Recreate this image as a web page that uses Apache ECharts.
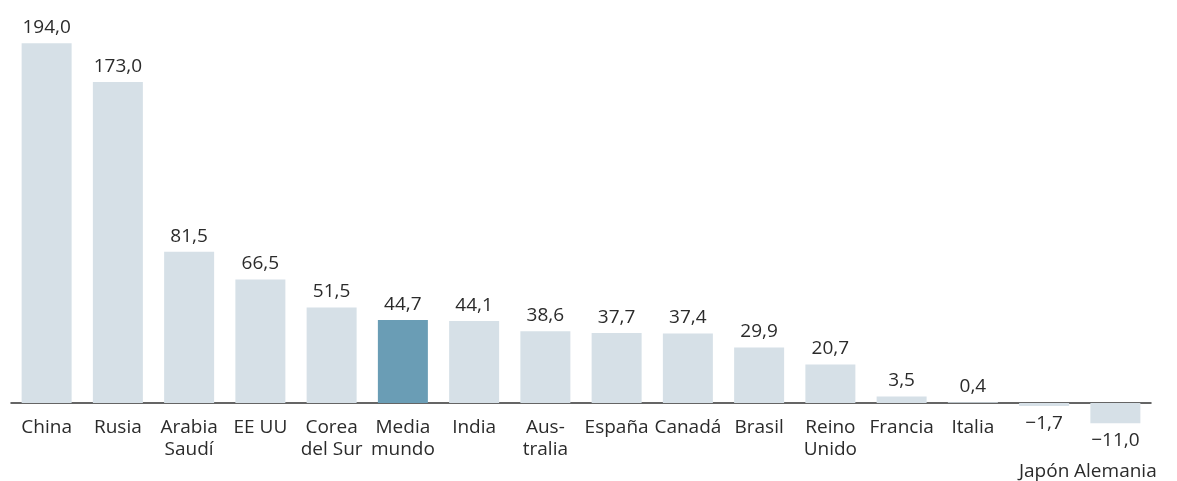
<!DOCTYPE html>
<html><head><meta charset="utf-8">
<script src="https://cdn.jsdelivr.net/npm/echarts@6/dist/echarts.min.js"></script>
<style>html,body{margin:0;padding:0;background:#fff}#c{width:1177px;height:481px}</style>
</head><body><div id="c"></div>
<script>
const categories = ["China","Rusia","Arabia\nSaudí","EE UU","Corea\ndel Sur","Media\nmundo","India","Aus-\ntralia","España","Canadá","Brasil","Reino\nUnido","Francia","Italia","\n\nJapón","\n\nAlemania"];
const values = [194.0,173.0,81.5,66.5,51.5,44.7,44.1,38.6,37.7,37.4,29.9,20.7,3.5,0.4,-1.7,-11.0];
const highlightIndex = 5;

const fmt = v => (v < 0 ? '\u2212' : '') + Math.abs(v).toFixed(1).replace('.', ',');
const chart = echarts.init(document.getElementById('c'));
chart.setOption({
  animation: false,
  grid: {left: 11, right: 26, top: 32, bottom: 41, containLabel: false, outerBoundsMode: 'none'},
  xAxis: {
    type: 'category', data: categories, position: 'bottom',
    axisLine: {onZero: true, lineStyle: {color: '#333', width: 1.5}},
    axisTick: {show: false},
    axisLabel: {interval: 0, color: '#2b2b2b', fontSize: 19, lineHeight: 22, margin: -23, fontFamily: 'Open Sans', hideOverlap: false}
  },
  yAxis: {type: 'value', min: -20, max: 200, show: false, splitLine: {show: false}},
  series: [{
    type: 'bar', barWidth: 50,
    data: values.map((v, i) => ({
      value: v,
      itemStyle: {color: i === highlightIndex ? '#6a9db5' : '#d6e0e7'},
      label: {position: v < 0 ? 'bottom' : 'top', distance: v < 0 ? 8 : 6}
    })),
    label: {show: true, color: '#2b2b2b', fontSize: 19, fontFamily: 'Open Sans', formatter: p => fmt(p.value)}
  }]
});
</script></body></html>
